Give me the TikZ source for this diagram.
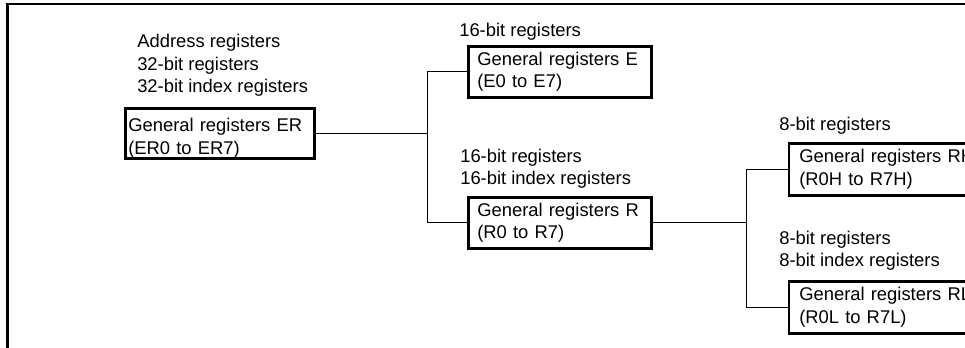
\documentclass[tikz,border=0pt]{standalone}
\usepackage{fontspec}
\setmainfont{Liberation Sans}
\begin{document}
\begin{tikzpicture}[x=0.75pt,y=-0.75pt,
  every node/.style={font=\fontsize{13.8}{16.9}\selectfont},
  frameline/.style={line width=1.9pt},
  conn/.style={line width=0.7pt},
  regbox/.style={draw, line width=1.9pt, anchor=north west, align=left, inner ysep=0pt},
  erbox/.style={regbox, minimum width=141.75pt, minimum height=37.5pt, inner xsep=2.25pt, text width=137.25pt},
  midbox/.style={regbox, minimum width=137.25pt, minimum height=38.5pt, inner xsep=6.75pt, text width=123.75pt},
  rbox/.style={regbox, minimum width=157.5pt, minimum height=39pt, inner xsep=7.875pt, text width=141.75pt},
  lbl/.style={anchor=base west, align=left, inner sep=0pt}
]
\useasboundingbox (0,0) rectangle (965,348);
\clip (0,0) rectangle (965,348);
\draw[frameline] (7.5,350) -- (7.5,4) -- (970,4);

\node[erbox] (ER) at (124,107) {\rule{0pt}{17.5pt}General registers ER\\(ER0 to ER7)};
\node[lbl] (lER) at (137,93) {Address registers\\32-bit registers\\32-bit index registers};

\node[midbox] (E) at (467,45) {General registers E\\(E0 to E7)};
\node[lbl] (lE) at (459,36.7) {16-bit registers};

\node[midbox] (R) at (467,196) {General registers R\\(R0 to R7)};
\node[lbl] (lR) at (460,185) {16-bit registers\\16-bit index registers};

\node[rbox] (RH) at (787.5,142) {General registers RH\\(R0H to R7H)};
\node[lbl] (lRH) at (779,130.7) {8-bit registers};

\node[rbox] (RL) at (787.5,280) {General registers RL\\(R0L to R7L)};
\node[lbl] (lRL) at (779,267) {8-bit registers\\8-bit index registers};

\coordinate (j1) at (427,0);
\coordinate (j2) at (746,0);
\draw[conn] (ER.east) -- (ER.east -| j1);
\draw[conn] (E.west) -- (E.west -| j1) -- (R.west -| j1) -- (R.west);
\draw[conn] (R.east) -- (R.east -| j2);
\draw[conn] (RH.west) -- (RH.west -| j2) -- (RL.west -| j2) -- (RL.west);
\end{tikzpicture}
\end{document}
